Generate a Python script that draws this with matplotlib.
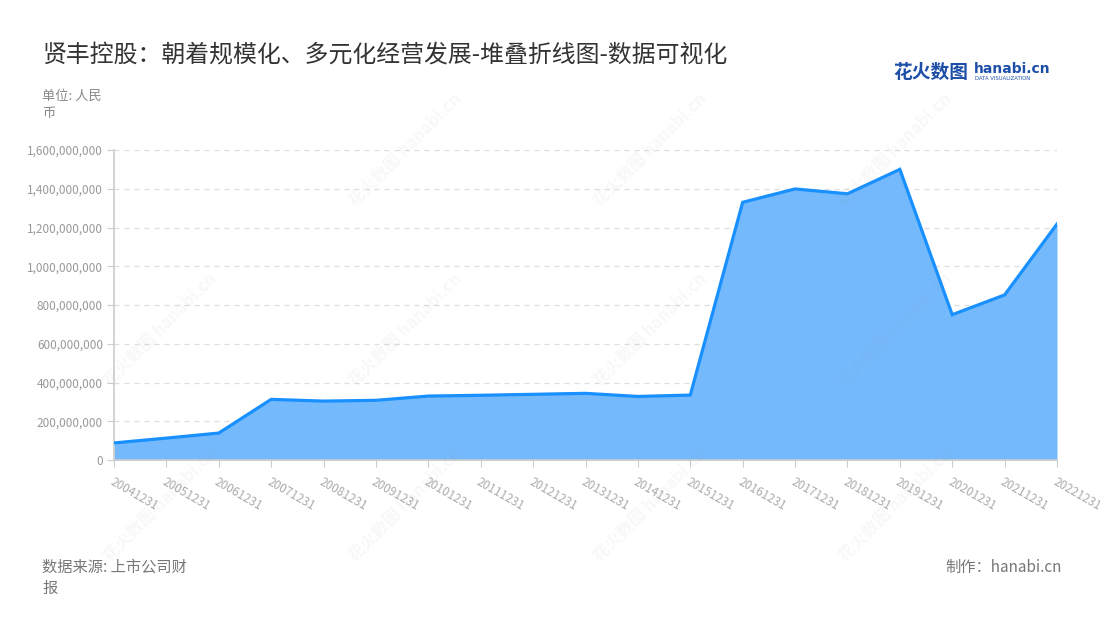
import matplotlib
matplotlib.use("Agg")
import matplotlib.pyplot as plt
from matplotlib.ticker import FuncFormatter
import numpy as np

plt.rcParams['font.family'] = ['Noto Sans CJK SC', 'DejaVu Sans']

# data
dates = ['20041231', '20051231', '20061231', '20071231', '20081231', '20091231',
         '20101231', '20111231', '20121231', '20131231', '20141231', '20151231',
         '20161231', '20171231', '20181231', '20191231', '20201231', '20211231',
         '20221231']
values = [88e6, 113e6, 139e6, 313e6, 304e6, 308e6,
          330e6, 334e6, 339e6, 344e6, 328e6, 335e6,
          1330e6, 1399e6, 1374e6, 1500e6, 750e6, 852e6,
          1218e6]
yticks = [0, 200e6, 400e6, 600e6, 800e6, 1000e6, 1200e6, 1400e6, 1600e6]

title = '贤丰控股：朝着规模化、多元化经营发展-堆叠折线图-数据可视化'

fig = plt.figure(figsize=(11, 6.2), dpi=100)
ax = fig.add_axes([114/1100, 1-460/620, (1057-114)/1100, (460-150)/620])

x = np.arange(len(dates))
ax.fill_between(x, 0, values, color='#74b9fc', linewidth=0, zorder=2)
ax.plot(x, values, color='#1890ff', linewidth=2.3, zorder=3, solid_joinstyle='miter')

ax.set_xlim(0, len(dates) - 1)
ax.set_ylim(0, 1.6e9)
ax.set_yticks(yticks)
ax.yaxis.set_major_formatter(FuncFormatter(lambda v, p: f'{int(v):,}'))
ax.set_xticks(x)
ax.set_xticklabels(dates, rotation=-30, ha='left', va='top', rotation_mode='anchor')

ax.grid(axis='y', color='#dddddd', linestyle=(0, (4, 4)), linewidth=0.9, zorder=1)
for s in ['top', 'right']:
    ax.spines[s].set_visible(False)
for s in ['left', 'bottom']:
    ax.spines[s].set_color('#cccccc')
    ax.spines[s].set_linewidth(1.2)
ax.tick_params(axis='y', colors='#cccccc', labelcolor='#999999', labelsize=8.5, length=5, pad=3)
ax.tick_params(axis='x', colors='#cccccc', labelcolor='#aaaaaa', labelsize=8.5, length=5, pad=6)

# faint watermarks
for wx, wy in [(405, 150), (650, 150), (895, 150),
               (160, 330), (405, 330), (650, 330), (895, 330),
               (160, 505), (405, 505), (650, 505), (895, 505)]:
    fig.text(wx/1100, 1-wy/620, '花火数图 hanabi.cn', rotation=45, fontsize=12,
             color='#999999', alpha=0.07, ha='center', va='center', fontweight='bold')

fig.text(42/1100, 1-55/620, title, fontsize=17.2, color='#333333', va='center', ha='left')
fig.text(42/1100, 1-96/620, '单位: 人民', fontsize=9.5, color='#888888', va='center')
fig.text(42/1100, 1-113/620, '币', fontsize=9.5, color='#888888', va='center')

# logo
fig.text(893/1100, 1-72/620, '花火数图', fontsize=13.5, color='#1d4fa8', fontweight='bold', va='center')
fig.text(974/1100, 1-69/620, 'hanabi.cn', fontsize=10, color='#1d4fa8', fontweight='bold',
         va='center', family='DejaVu Sans')
fig.text(975/1100, 1-79/620, 'DATA VISUALIZATION', fontsize=3.8, color='#1d4fa8',
         va='center', family='DejaVu Sans')

fig.text(42/1100, 1-567/620, '数据来源: 上市公司财', fontsize=11, color='#777777', va='center')
fig.text(42/1100, 1-588/620, '报', fontsize=11, color='#777777', va='center')
fig.text(1062/1100, 1-567/620, '制作：hanabi.cn', fontsize=11, color='#777777', va='center', ha='right')

fig.savefig('out.png', dpi=100)
